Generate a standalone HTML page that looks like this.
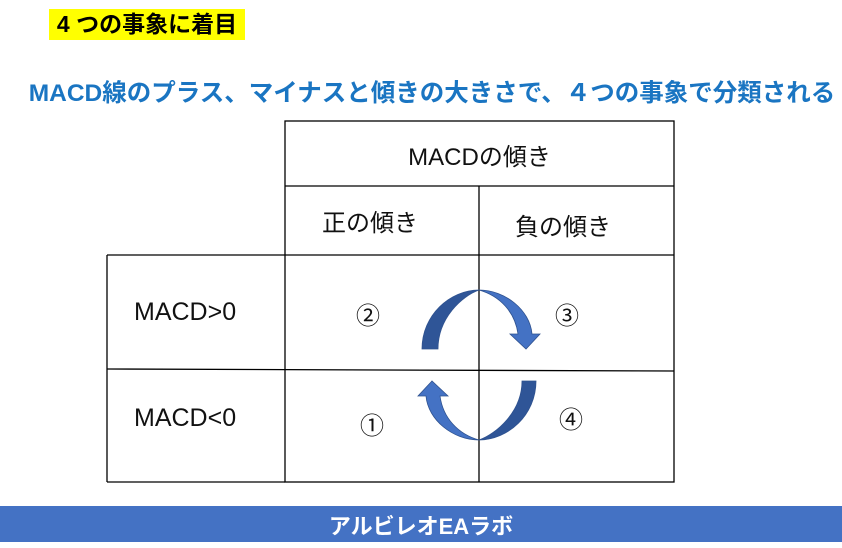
<!DOCTYPE html>
<html><head><meta charset="utf-8"><style>
body{margin:0;width:842px;height:542px;background:#fff;position:relative;overflow:hidden;font-family:"Liberation Sans","Noto Sans CJK JP",sans-serif}
.t{position:absolute;white-space:nowrap}
</style></head><body>
<div class="t" style="left:49px;top:9px;width:196px;height:31px;background:#ffff00;font-weight:bold;font-size:23px;line-height:31px;text-align:center;color:#000">4 つの事象に着目</div>
<div class="t" style="left:20px;top:79px;width:824px;font-weight:bold;font-size:24.5px;line-height:30px;color:#1a75c2;text-align:center">MACD線のプラス、マイナスと傾きの大きさで、４つの事象で分類される</div>
<svg width="842" height="542" style="position:absolute;left:0;top:0">
<g stroke="#000" stroke-width="1.3" fill="none">
<rect x="285" y="121" width="389" height="361"/>
<line x1="285" y1="186" x2="674" y2="186"/>
<line x1="479" y1="186" x2="479" y2="482"/>
<line x1="107" y1="255" x2="674" y2="255"/>
<line x1="107" y1="255" x2="107" y2="482"/>
<line x1="107" y1="482" x2="285" y2="482"/>
<line x1="107" y1="369" x2="674" y2="371"/>
</g>
<g stroke="#2f528f" stroke-width="0.8">
<path d="M422,349 C422,315 450,290 479,290 C462,296 438,318 438,349 Z" fill="#2f5597"/>
<path d="M479,290 C505,290 530,310 532,334 L540,334 L526,349 L510,334 L518,334 C515,312 500,296 479,290 Z" fill="#4472c4"/>
<path d="M536,381 C536,415 508,440 479,440 C496,434 522,412 522,381 Z" fill="#2f5597"/>
<path d="M479,440 C453,440 428,420 426,396 L418,396 L432,381 L448,396 L440,396 C443,418 458,434 479,440 Z" fill="#4472c4"/>
</g>
</svg>
<div class="t" style="left:285px;top:137px;width:389px;text-align:center;font-size:24px;color:#111">MACDの傾き</div>
<div class="t" style="left:322px;top:203px;font-size:24px;color:#111">正の傾き</div>
<div class="t" style="left:515px;top:207px;font-size:24px;color:#111">負の傾き</div>
<div class="t" style="left:134px;top:298px;font-size:25px;color:#111">MACD&gt;0</div>
<div class="t" style="left:134px;top:404px;font-size:25px;color:#111">MACD&lt;0</div>
<div class="t" style="left:356px;top:296px;font-size:24px;color:#111">②</div>
<div class="t" style="left:555px;top:296px;font-size:24px;color:#111">③</div>
<div class="t" style="left:360px;top:406px;font-size:24px;color:#111">①</div>
<div class="t" style="left:559px;top:400px;font-size:24px;color:#111">④</div>
<div class="t" style="left:0;top:506px;width:842px;height:36px;background:#4472c4;color:#fff;font-weight:bold;font-size:22px;line-height:42px;text-align:center">アルビレオEAラボ</div>
</body></html>
